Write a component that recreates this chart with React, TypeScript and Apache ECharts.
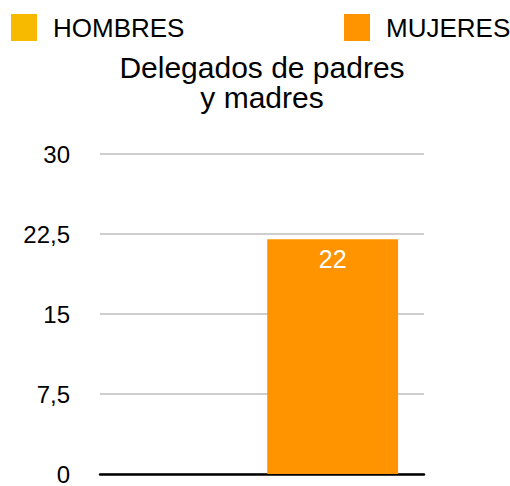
import React, { useEffect, useRef } from "react";
import * as echarts from "echarts";

const categories = [""];
const seriesNames = ["HOMBRES", "MUJERES"];
const hombres = [0];
const mujeres = [22];
const colors = ["#F8BA00", "#FF9300"];
const titleText = "Delegados de padres\ny madres";

const FONT = "'Liberation Sans', Arial, Helvetica, sans-serif";

export default function App() {
  const ref = useRef<HTMLDivElement>(null);
  useEffect(() => {
    if (!ref.current) return;
    const chart = echarts.init(ref.current, null, { renderer: "svg" });
    const legendBase = {
      top: 14,
      itemWidth: 26,
      itemHeight: 27,
      icon: "rect",
      padding: 0,
      textStyle: { fontFamily: FONT, fontSize: 26, color: "#000", padding: [0, 0, 0, 11] },
    };
    chart.setOption({
      animation: false,
      color: colors,
      textStyle: { fontFamily: FONT },
      title: {
        text: titleText,
        left: 262,
        textAlign: "center",
        top: 52,
        padding: 0,
        textStyle: { fontFamily: FONT, fontSize: 30, fontWeight: "normal", color: "#000", lineHeight: 30.5 },
      },
      legend: [
        { ...legendBase, left: 11, data: [seriesNames[0]] },
        { ...legendBase, left: 344, data: [seriesNames[1]] },
      ],
      grid: { left: 100, right: 86, top: 154, bottom: 10, containLabel: false },
      xAxis: {
        type: "category",
        data: categories,
        axisTick: { show: false },
        axisLabel: { show: false },
        axisLine: { lineStyle: { color: "#000", width: 2.5 } },
      },
      yAxis: {
        type: "value",
        min: 0,
        max: 30,
        interval: 7.5,
        axisLine: { show: false },
        axisTick: { show: false },
        axisLabel: {
          margin: 30,
          fontFamily: FONT,
          fontSize: 24,
          color: "#000",
          formatter: (v: number) => String(v).replace(".", ","),
        },
        splitLine: { lineStyle: { color: "#BEBEBE", width: 1.5 } },
      },
      series: [
        {
          name: seriesNames[0],
          type: "bar",
          data: hombres,
          barGap: "8%",
          barCategoryGap: "16%",
          label: { show: false },
        },
        {
          name: seriesNames[1],
          type: "bar",
          data: mujeres,
          barGap: "8%",
          barCategoryGap: "16%",
          label: {
            show: true,
            position: "insideTop",
            distance: 7,
            color: "#fff",
            fontFamily: FONT,
            fontSize: 25,
          },
        },
      ],
    });
    return () => chart.dispose();
  }, []);
  return <div ref={ref} style={{ width: 510, height: 486, position: "absolute", left: 0, top: 0 }} />;
}
